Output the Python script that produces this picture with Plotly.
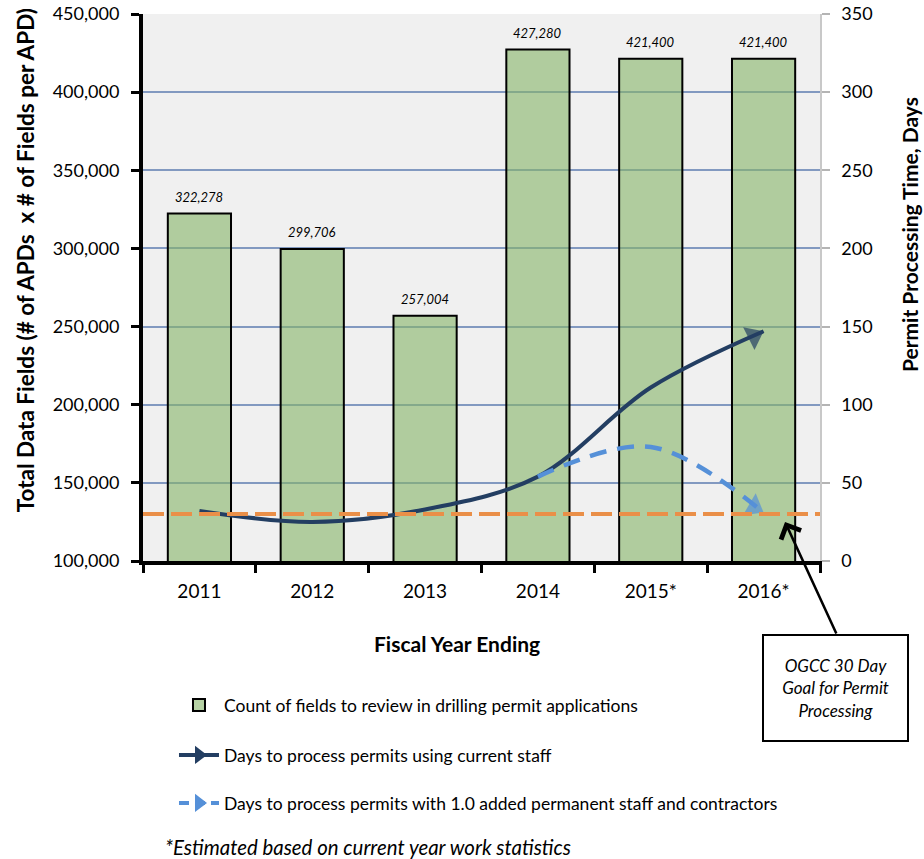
import plotly.graph_objects as go

# Fiscal years and reviewed-field counts (left axis)
years = ["2011", "2012", "2013", "2014", "2015*", "2016*"]
field_counts = [322278, 299706, 257004, 427280, 421400, 421400]

# Permit processing time in days (right axis)
days_current_staff = [32, 25, 33, 54, 111, 147]
days_added_staff = [None, None, None, 54, 73, 31]
goal_days = 30

left_ticks = list(range(100000, 450001, 50000))
right_ticks = list(range(0, 351, 50))

FONT = "Lato"
BAR_FILL = "rgba(133,180,103,0.6)"
DARK_BLUE = "#233e62"
LIGHT_BLUE = "#5590d8"
ORANGE = "#ea8f48"
GRID = "#8299c0"


def end_arrow(values, color, size):
    """Marker spec: a triangle on the last point, oriented along the line
    and pulled back so that its tip sits on the point."""
    n = len(values)
    return dict(
        symbol=["circle"] * (n - 1) + ["triangle-up"],
        size=[0] * (n - 1) + [size],
        angleref="previous",
        standoff=[0] * (n - 1) + [size / 2],
        color=color,
        line=dict(width=0),
    )


fig = go.Figure()

fig.add_trace(go.Bar(
    x=years, y=field_counts, width=0.56,
    marker=dict(color=BAR_FILL, line=dict(color="black", width=2)),
    name="Count of fields to review in drilling permit applications",
    legend="legend", hoverinfo="skip",
))

fig.add_trace(go.Scatter(
    x=years, y=days_current_staff, yaxis="y2", mode="lines+markers",
    line=dict(color=DARK_BLUE, width=4, shape="spline", smoothing=1),
    marker=end_arrow(days_current_staff, DARK_BLUE, 22),
    showlegend=False, hoverinfo="skip",
))

fig.add_trace(go.Scatter(
    x=years, y=days_added_staff, yaxis="y2", mode="lines+markers",
    line=dict(color=LIGHT_BLUE, width=4.5, shape="spline", smoothing=1,
              dash="17px,11px"),
    marker=end_arrow(days_added_staff, LIGHT_BLUE, 22),
    showlegend=False, hoverinfo="skip",
))

# Legend entries for the two processing-time series
fig.add_trace(go.Scatter(
    x=[None], y=[None], yaxis="y2", mode="lines+markers",
    line=dict(color=DARK_BLUE, width=4),
    marker=dict(symbol="triangle-right", size=20, color=DARK_BLUE),
    name="Days to process permits using current staff", legend="legend2",
))
fig.add_trace(go.Scatter(
    x=[None], y=[None], yaxis="y2", mode="lines+markers",
    line=dict(color=LIGHT_BLUE, width=4, dash="10px,6px"),
    marker=dict(symbol="triangle-right", size=20, color=LIGHT_BLUE),
    name="Days to process permits with 1.0 added permanent staff and contractors",
    legend="legend3",
))

# 30-day goal line across the whole plot
fig.add_shape(
    type="line", xref="x domain", x0=0, x1=1, yref="y2",
    y0=goal_days, y1=goal_days, layer="above",
    line=dict(color=ORANGE, width=4, dash="21px,7px"),
)

annotations = []
for i, v in enumerate(field_counts):
    annotations.append(dict(
        x=i, y=v, xref="x", yref="y", text=f"{v:,}", showarrow=False,
        xanchor="center", yanchor="bottom", yshift=7,
        font=dict(family=FONT, size=13, style="italic", color="black"),
    ))

title_font = dict(family=FONT, size=21, weight="bold", color="black")
annotations += [
    dict(text="Total Data Fields (# of APDs\u00a0 x # of Fields per APD)",
         xref="paper", yref="paper", x=-0.174, y=0.55, textangle=-90,
         xanchor="center", yanchor="middle", showarrow=False,
         font=dict(family=FONT, size=22.5, weight="bold", color="black")),
    dict(text="Permit Processing Time, Days",
         xref="paper", yref="paper", x=1.133, y=0.596, textangle=-90,
         xanchor="center", yanchor="middle", showarrow=False,
         font=title_font),
    dict(text="Fiscal Year Ending", xref="paper", yref="paper",
         x=0.464, y=-0.150, xanchor="center", yanchor="middle",
         showarrow=False, font=title_font),
    dict(text="*Estimated based on current year work statistics",
         xref="paper", yref="paper", x=0.029, y=-0.523,
         xanchor="left", yanchor="middle", showarrow=False,
         font=dict(family=FONT, size=20.4, style="italic", color="black")),
    dict(text="OGCC 30 Day<br>Goal for Permit<br>Processing",
         xref="paper", yref="paper", x=1.0222, y=-0.2322,
         xanchor="center", yanchor="middle",
         width=141, height=102, showarrow=False,
         bordercolor="black", borderwidth=2, bgcolor="white",
         font=dict(family=FONT, size=17, style="italic", color="black")),
    dict(text="", xref="x", yref="y2", x=5.19, y=goal_days - 5,
         ax=52, ay=113, showarrow=True, arrowhead=4, arrowsize=1.7,
         arrowwidth=2.5, arrowcolor="black"),
]

legend_common = dict(xref="container", yref="container", x=0.1883,
                     xanchor="left", yanchor="middle",
                     bgcolor="rgba(0,0,0,0)",
                     font=dict(family=FONT, size=17.5, color="black"),
                     itemwidth=40)

fig.update_layout(
    width=924, height=859,
    margin=dict(l=143, r=104, t=14, b=298, autoexpand=False),
    paper_bgcolor="white", plot_bgcolor="#f0f0f0",
    font=dict(family=FONT, color="black", size=18),
    xaxis=dict(type="category", tickson="boundaries", ticks="outside",
               ticklen=8, tickwidth=3, tickcolor="black", showline=True,
               linecolor="black", linewidth=4, showgrid=False,
               range=[-0.5, 5.5], ticklabelstandoff=10,
               tickfont=dict(family=FONT, size=19)),
    yaxis=dict(range=[100000, 450000], tickvals=left_ticks, tickformat=",",
               ticks="outside", ticklen=8, tickwidth=3, tickcolor="black",
               showline=True, linecolor="black", linewidth=4,
               showgrid=True, gridcolor=GRID, gridwidth=1.5, zeroline=False,
               ticklabelstandoff=8, tickfont=dict(family=FONT, size=18)),
    yaxis2=dict(overlaying="y", side="right", range=[0, 350],
                tickvals=right_ticks, ticks="outside", ticklen=8,
                tickwidth=1.5, tickcolor="#b4b4b4", showline=True,
                linecolor="#c8c8c8", linewidth=1.5, showgrid=False,
                zeroline=False, ticklabelstandoff=8,
                tickfont=dict(family=FONT, size=18)),
    legend=dict(y=1 - 705 / 859, **legend_common),
    legend2=dict(y=1 - 755 / 859, **legend_common),
    legend3=dict(y=1 - 803 / 859, **legend_common),
    annotations=annotations,
)

fig.write_html("out.html")
